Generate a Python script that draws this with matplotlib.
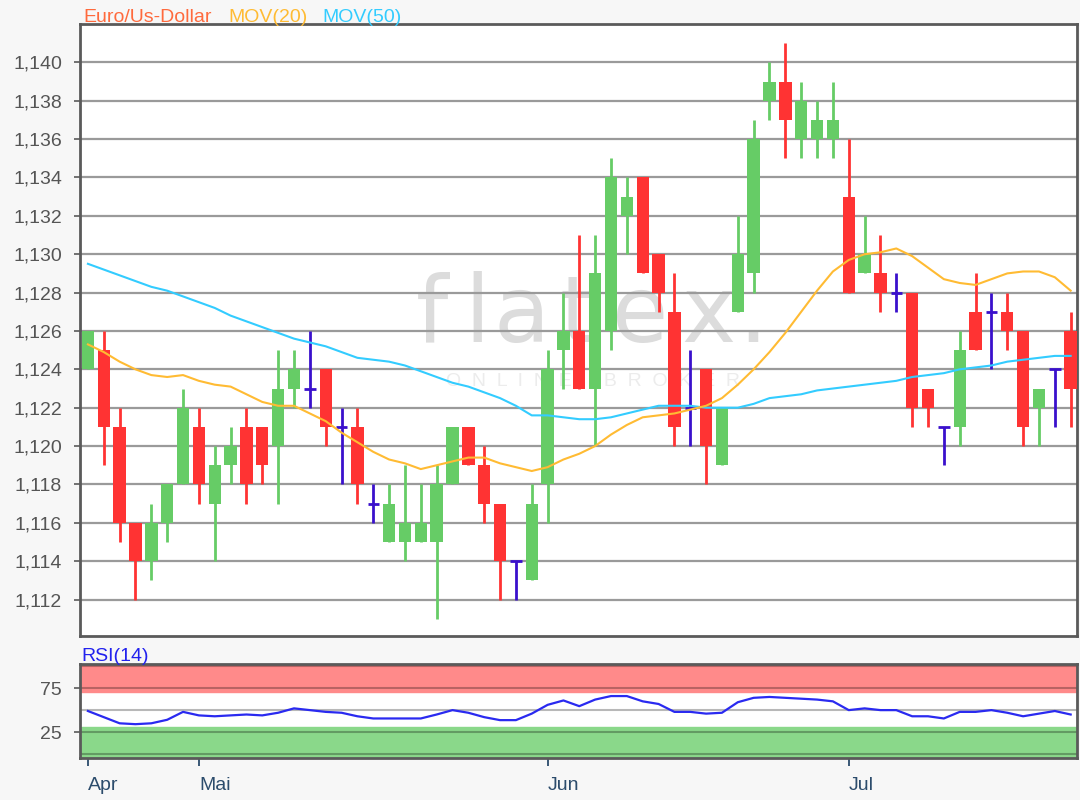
import matplotlib
matplotlib.use('Agg')
import matplotlib.pyplot as plt
import numpy as np

# ---------------- data ----------------
opens = [1.124, 1.125, 1.121, 1.116, 1.114, 1.116, 1.118, 1.121, 1.117, 1.119,
         1.121, 1.121, 1.120, 1.123, 1.123, 1.124, 1.121, 1.121, 1.117, 1.115,
         1.115, 1.115, 1.115, 1.118, 1.121, 1.119, 1.117, 1.114, 1.113, 1.118,
         1.125, 1.126, 1.123, 1.126, 1.132, 1.134, 1.130, 1.127, 1.122, 1.124,
         1.119, 1.127, 1.129, 1.138, 1.139, 1.136, 1.136, 1.136, 1.133, 1.129,
         1.129, 1.128, 1.128, 1.123, 1.121, 1.121, 1.127, 1.127, 1.127, 1.126,
         1.122, 1.124, 1.126]
highs = [1.126, 1.126, 1.122, 1.116, 1.117, 1.118, 1.123, 1.122, 1.120, 1.121,
         1.122, 1.121, 1.125, 1.125, 1.126, 1.124, 1.122, 1.122, 1.118, 1.118,
         1.119, 1.118, 1.119, 1.121, 1.121, 1.120, 1.117, 1.114, 1.118, 1.125,
         1.128, 1.131, 1.131, 1.135, 1.134, 1.134, 1.130, 1.129, 1.125, 1.124,
         1.122, 1.132, 1.137, 1.140, 1.141, 1.139, 1.138, 1.139, 1.136, 1.132,
         1.131, 1.129, 1.128, 1.123, 1.121, 1.126, 1.129, 1.128, 1.128, 1.126,
         1.123, 1.124, 1.127]
lows = [1.124, 1.119, 1.115, 1.112, 1.113, 1.115, 1.118, 1.117, 1.114, 1.118,
        1.117, 1.118, 1.117, 1.122, 1.122, 1.120, 1.118, 1.117, 1.116, 1.115,
        1.114, 1.115, 1.111, 1.118, 1.119, 1.116, 1.112, 1.112, 1.113, 1.116,
        1.123, 1.123, 1.120, 1.125, 1.130, 1.129, 1.127, 1.120, 1.120, 1.118,
        1.119, 1.127, 1.128, 1.137, 1.135, 1.135, 1.135, 1.135, 1.128, 1.129,
        1.127, 1.127, 1.121, 1.121, 1.119, 1.120, 1.125, 1.124, 1.125, 1.120,
        1.120, 1.121, 1.121]
closes = [1.126, 1.121, 1.116, 1.114, 1.116, 1.118, 1.122, 1.118, 1.119, 1.120,
          1.118, 1.119, 1.123, 1.124, 1.123, 1.121, 1.121, 1.118, 1.117, 1.117,
          1.116, 1.116, 1.118, 1.121, 1.119, 1.117, 1.114, 1.114, 1.117, 1.124,
          1.126, 1.123, 1.129, 1.134, 1.133, 1.129, 1.128, 1.121, 1.122, 1.120,
          1.122, 1.130, 1.136, 1.139, 1.137, 1.138, 1.137, 1.137, 1.128, 1.130,
          1.128, 1.128, 1.122, 1.122, 1.121, 1.125, 1.125, 1.127, 1.126, 1.121,
          1.123, 1.124, 1.123]

mov20 = [1.1253, 1.1249, 1.1244, 1.1240, 1.1237, 1.1236, 1.1237, 1.1234, 1.1232, 1.1231,
         1.1227, 1.1223, 1.1221, 1.1221, 1.1217, 1.1213, 1.1207, 1.1202, 1.1197, 1.1193,
         1.1191, 1.1188, 1.1190, 1.1192, 1.1194, 1.1194, 1.1191, 1.1189, 1.1187, 1.1189,
         1.1193, 1.1196, 1.1200, 1.1206, 1.1211, 1.1215, 1.1216, 1.1217, 1.1219, 1.1221,
         1.1225, 1.1232, 1.1240, 1.1249, 1.1259, 1.1270, 1.1281, 1.1291, 1.1297, 1.1300,
         1.1301, 1.1303, 1.1299, 1.1293, 1.1287, 1.1285, 1.1284, 1.1287, 1.1290, 1.1291,
         1.1291, 1.1288, 1.1281]
mov50 = [1.1295, 1.1292, 1.1289, 1.1286, 1.1283, 1.1281, 1.1278, 1.1275, 1.1272, 1.1268,
         1.1265, 1.1262, 1.1259, 1.1256, 1.1254, 1.1252, 1.1249, 1.1246, 1.1245, 1.1244,
         1.1242, 1.1239, 1.1236, 1.1233, 1.1231, 1.1228, 1.1225, 1.1221, 1.1216, 1.1216,
         1.1215, 1.1214, 1.1214, 1.1215, 1.1217, 1.1219, 1.1221, 1.1221, 1.1221, 1.1220,
         1.1220, 1.1220, 1.1222, 1.1225, 1.1226, 1.1227, 1.1229, 1.1230, 1.1231, 1.1232,
         1.1233, 1.1234, 1.1236, 1.1237, 1.1238, 1.1240, 1.1241, 1.1242, 1.1244, 1.1245,
         1.1246, 1.1247, 1.1247]
rsi = [49, 42, 35, 34, 35, 39, 48, 44, 43, 44,
       45, 44, 47, 52, 50, 48, 47, 43, 40.5, 40.5,
       40.5, 40.5, 45, 50, 47, 42, 38.6, 38.6, 46, 56,
       61, 54.5, 62, 66, 66, 60, 57, 48, 48, 46,
       47, 59, 64, 65, 64, 63, 62, 60, 50, 52,
       50, 50, 43, 43, 40.5, 48, 48, 50, 47, 43,
       46, 49, 45]

month_pos = [0, 7, 29, 48]
month_labels = ['Apr', 'Mai', 'Jun', 'Jul']
price_ticks = [1.112, 1.114, 1.116, 1.118, 1.120, 1.122, 1.124, 1.126, 1.128,
               1.130, 1.132, 1.134, 1.136, 1.138, 1.140]

# ---------------- style ----------------
FONT = ['Liberation Sans', 'DejaVu Sans']
plt.rcParams['font.family'] = FONT
GREEN = '#66cc66'
RED = '#ff3333'
DOJI = '#3a10cc'
SPINE = '#5a5a5a'
GRID = '#9a9a9a'

W, H = 1080, 800
fig = plt.figure(figsize=(W / 100, H / 100), dpi=100, facecolor='#f7f7f7')
ax = fig.add_axes([80 / W, 1 - 636 / H, 997 / W, 612 / H])
ax2 = fig.add_axes([80 / W, 1 - 758 / H, 997 / W, 94 / H])

# ---------------- candles ----------------
x = np.arange(len(opens))
bw = 0.78
for i in x:
    o, h, l, c = opens[i], highs[i], lows[i], closes[i]
    if c > o:
        col = GREEN
    elif c < o:
        col = RED
    else:
        col = DOJI
    ax.vlines(i, l, h, color=col, lw=2, zorder=3)
    if c != o:
        ax.bar(i, abs(c - o), bottom=min(o, c), width=bw, color=col,
               linewidth=0, zorder=4)
    else:
        ax.hlines(o, i - 0.36, i + 0.36, color=col, lw=2, zorder=4)

ax.plot(x, mov50, color='#33ccff', lw=1.5, zorder=5)
ax.plot(x, mov20, color='#ffbb33', lw=1.5, zorder=5)

ax.set_xlim(-0.5, 62.4)
ax.set_ylim(1.1101, 1.1420)
ax.set_yticks(price_ticks)
ax.set_yticklabels([f"{v:.3f}".replace('.', ',') for v in price_ticks])
ax.grid(axis='y', color=GRID, lw=1.6, zorder=1)
ax.set_axisbelow(True)
ax.tick_params(axis='y', length=4, width=1.2, color=SPINE, pad=9,
               labelsize=14, labelcolor='#555555')
ax.tick_params(axis='x', length=0, labelbottom=False)
for s in ax.spines.values():
    s.set_color(SPINE)
    s.set_linewidth(2)

# watermark
wm_letters = ['f', 'l', 'a', 't', 'e', 'x', '.']
wm_px = [432, 477, 522, 577, 640, 708, 753]
for ch, px in zip(wm_letters, wm_px):
    ax.text((px - 80) / 997, (636 - 342) / 612, ch, transform=ax.transAxes,
            ha='center', va='baseline', fontsize=66, color='#dcdcdc',
            family=['DejaVu Sans'], zorder=0.5)
ax.text((593 - 80) / 997, (636 - 386) / 612,
        'O  N  L  I  N  E      B  R  O  K  E  R',
        transform=ax.transAxes, ha='center', va='baseline', fontsize=14,
        color='#ececec', zorder=0.5)

# ---------------- RSI ----------------
ax2.set_xlim(-0.5, 62.4)
ax2.set_ylim(-4.5, 102.5)
ax2.axhspan(71, 102.5, color='#ff8a8a', zorder=0)
ax2.axhspan(-4.5, 31, color='#8ad88a', zorder=0)
for lvl in [0, 25, 50, 75, 100]:
    ax2.axhline(lvl, color=(0, 0, 0, 0.28), lw=1.5, zorder=1)
ax2.plot(x, rsi, color='#2a2af0', lw=1.6, zorder=3)
ax2.set_yticks([25, 75])
ax2.set_yticklabels(['25', '75'])
ax2.tick_params(axis='y', length=4, width=1.2, color=SPINE, pad=9,
                labelsize=14, labelcolor='#555555')
ax2.set_xticks(month_pos)
ax2.set_xticklabels(month_labels, ha='left')
ax2.tick_params(axis='x', length=6, width=1.3, color='#2c4c6c', pad=8,
                labelsize=14, labelcolor='#2c4c6c')
for s in ax2.spines.values():
    s.set_color(SPINE)
    s.set_linewidth(2)

# ---------------- titles ----------------
fig.text(83 / W, 1 - 22 / H, 'Euro/Us-Dollar', color='#ff6a3d', fontsize=14,
         va='baseline')
fig.text(228 / W, 1 - 22 / H, 'MOV(20)', color='#ffbb33', fontsize=14,
         va='baseline')
fig.text(322 / W, 1 - 22 / H, 'MOV(50)', color='#33ccff', fontsize=14,
         va='baseline')
fig.text(81 / W, 1 - 661 / H, 'RSI(14)', color='#2222ee', fontsize=14,
         va='baseline')

fig.savefig('out.png', dpi=100, facecolor=fig.get_facecolor())
